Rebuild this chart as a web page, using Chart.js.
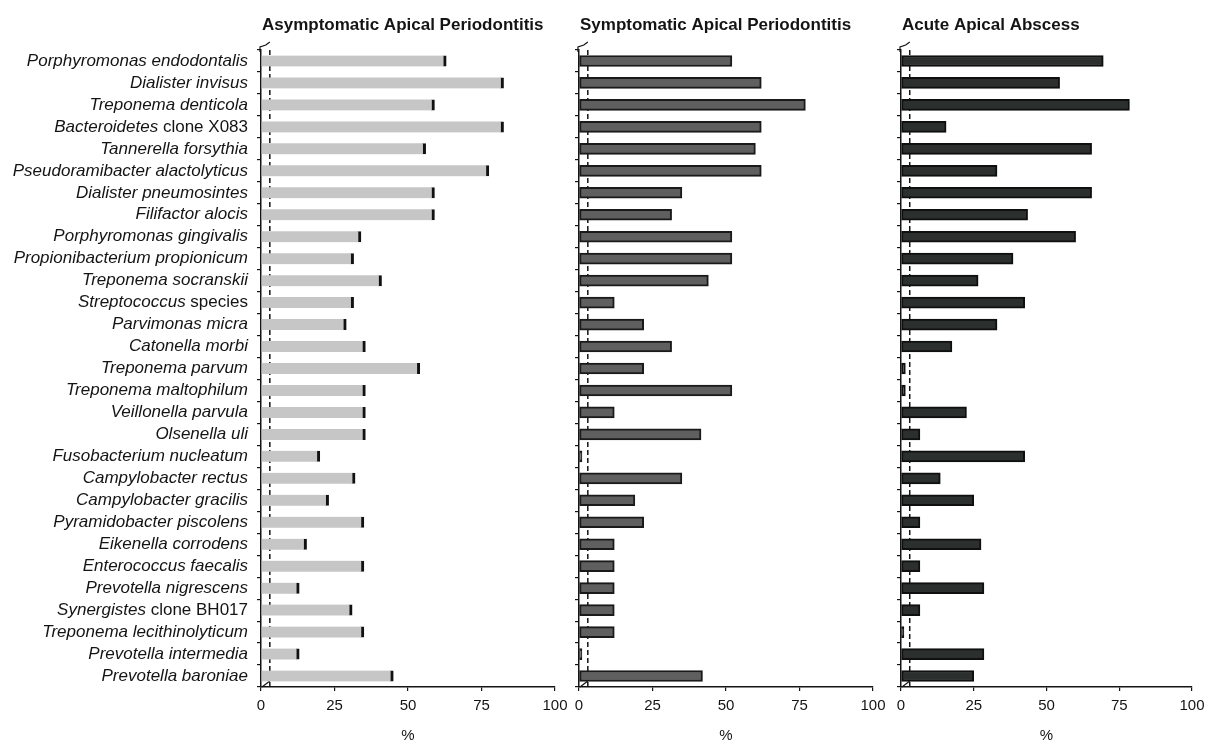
<!DOCTYPE html>
<html>
<head>
<meta charset="utf-8">
<script src="https://cdn.jsdelivr.net/npm/chart.js@4"></script>
<style>
  html, body { margin: 0; padding: 0; background: #fff; }
  body { width: 1206px; height: 742px; position: relative; overflow: hidden; }
  canvas { position: absolute; top: 0; }
</style>
</head>
<body>
<canvas id="c1" width="575" height="742" style="left:0px"></canvas>
<canvas id="c2" width="330" height="742" style="left:565px"></canvas>
<canvas id="c3" width="316" height="742" style="left:890px"></canvas>
<script>
// Taxa, top to bottom
const categories = [
  'Porphyromonas endodontalis', 'Dialister invisus', 'Treponema denticola',
  'Bacteroidetes clone X083', 'Tannerella forsythia', 'Pseudoramibacter alactolyticus',
  'Dialister pneumosintes', 'Filifactor alocis', 'Porphyromonas gingivalis',
  'Propionibacterium propionicum', 'Treponema socranskii', 'Streptococcus species',
  'Parvimonas micra', 'Catonella morbi', 'Treponema parvum', 'Treponema maltophilum',
  'Veillonella parvula', 'Olsenella uli', 'Fusobacterium nucleatum', 'Campylobacter rectus',
  'Campylobacter gracilis', 'Pyramidobacter piscolens', 'Eikenella corrodens',
  'Enterococcus faecalis', 'Prevotella nigrescens', 'Synergistes clone BH017',
  'Treponema lecithinolyticum', 'Prevotella intermedia', 'Prevotella baroniae'
];

// Prevalence (%) per clinical condition
const asymptomatic = [63, 82.5, 59, 82.5, 56, 77.5, 59, 59, 34, 31.5, 41, 31.5, 29, 35.5, 54,
  35.5, 35.5, 35.5, 20, 32, 23, 35, 15.5, 35, 13, 31, 35, 13, 45];
const symptomatic = [52, 62, 77, 62, 60, 62, 35, 31.5, 52, 52, 44, 12, 22, 31.5, 22,
  52, 12, 41.5, 1, 35, 19, 22, 12, 12, 12, 12, 12, 1, 42];
const acuteAbscess = [69.5, 54.5, 78.5, 15.5, 65.5, 33, 65.5, 43.5, 60, 38.5, 26.5, 42.5, 33, 17.5, 1.5,
  1.5, 22.5, 6.5, 42.5, 13.5, 25, 6.5, 27.5, 6.5, 28.5, 6.5, 1, 28.5, 25];

const panelTitles = ['Asymptomatic Apical Periodontitis', 'Symptomatic Apical Periodontitis', 'Acute Apical Abscess'];
const xTicks = [0, 25, 50, 75, 100];
const referenceLine = 3;          // dashed vertical reference (%)
const uprightWords = ['clone', 'X083', 'species', 'BH017'];

const INK = '#141414';
const FONT = '"Liberation Sans", Arial, Helvetica, sans-serif';

// Titles, dashed reference line, axis hooks and mixed-style taxon names
const panelDecor = {
  id: 'panelDecor',
  beforeDatasetsDraw(chart, args, opts) {
    const { ctx, chartArea } = chart;
    const xs = chart.scales.x;
    const rx = xs.getPixelForValue(referenceLine);
    ctx.save();
    ctx.strokeStyle = INK;
    ctx.lineWidth = 1.5;
    ctx.setLineDash([5, 3]);
    ctx.beginPath();
    ctx.moveTo(rx, chartArea.top);
    ctx.lineTo(rx, chartArea.bottom);
    ctx.stroke();
    ctx.setLineDash([]);
    // small hook at the top of the axis
    ctx.lineWidth = 1.2;
    ctx.beginPath();
    ctx.moveTo(chartArea.left - 1, chartArea.top + 2);
    ctx.lineTo(chartArea.left - 1, chartArea.top - 3);
    ctx.lineTo(rx - 4, chartArea.top - 5);
    ctx.lineTo(rx, chartArea.top - 8);
    ctx.stroke();
    // small curl at the bottom
    ctx.beginPath();
    ctx.moveTo(rx, chartArea.bottom - 6);
    ctx.lineTo(chartArea.left + 1, chartArea.bottom);
    ctx.stroke();
    ctx.restore();
  },
  afterDraw(chart, args, opts) {
    const { ctx, chartArea } = chart;
    ctx.save();
    ctx.fillStyle = INK;
    ctx.textBaseline = 'middle';
    ctx.textAlign = 'left';
    ctx.font = 'bold 17px ' + FONT;
    ctx.fillText(opts.title, chartArea.left + 1, 25);

    if (opts.names) {
      const ys = chart.scales.y;
      const italic = 'italic 17px ' + FONT;
      const upright = '17px ' + FONT;
      const right = chartArea.left - 13;
      categories.forEach((name, i) => {
        const y = ys.getPixelForValue(i);
        const words = name.split(' ');
        const parts = words.map((w, k) => ({
          text: (k ? ' ' : '') + w,
          font: uprightWords.includes(w) ? upright : italic
        }));
        let total = 0;
        parts.forEach(p => { ctx.font = p.font; p.w = ctx.measureText(p.text).width; total += p.w; });
        let x = right - total;
        parts.forEach(p => { ctx.font = p.font; ctx.fillText(p.text, x, y); x += p.w; });
      });
    }
    ctx.restore();
  }
};

function makePanel(id, values, title, style, yWidth, padRight, names) {
  return new Chart(document.getElementById(id), {
    type: 'bar',
    data: {
      labels: categories,
      datasets: [{
        data: values,
        backgroundColor: style.fill,
        borderColor: style.edge,
        borderWidth: style.borderWidth,
        borderSkipped: style.skip,
        barThickness: 11
      }]
    },
    options: {
      indexAxis: 'y',
      responsive: false,
      animation: false,
      devicePixelRatio: 1,
      layout: { padding: { top: 50, right: padRight, bottom: 0, left: 0 } },
      plugins: {
        legend: { display: false },
        tooltip: { enabled: false },
        title: { display: false },
        panelDecor: { title: title, names: names }
      },
      scales: {
        x: {
          type: 'linear',
          min: 0, max: 100,
          afterBuildTicks: s => { s.ticks = xTicks.map(v => ({ value: v })); },
          afterFit: s => { s.height = 55; s.paddingLeft = 0; s.paddingRight = 0; },
          border: { display: true, color: INK, width: 1.5 },
          grid: { drawOnChartArea: false, drawTicks: true, tickLength: 4, color: INK, lineWidth: 1.2 },
          ticks: { color: INK, font: { family: FONT, size: 15 }, padding: 6, maxRotation: 0 },
          title: { display: true, text: '%', color: INK, font: { family: FONT, size: 15 }, padding: { top: 0, bottom: -3 } }
        },
        y: {
          type: 'category',
          offset: true,
          afterFit: s => { s.width = yWidth; s.paddingTop = 0; s.paddingBottom = 0; },
          border: { display: true, color: INK, width: 1.5 },
          grid: { drawOnChartArea: false, drawTicks: true, tickLength: 4, offset: true, color: INK, lineWidth: 1.2 },
          ticks: { display: false }
        }
      }
    },
    plugins: [panelDecor]
  });
}

makePanel('c1', asymptomatic, panelTitles[0],
  { fill: '#c6c6c6', edge: '#111', borderWidth: { top: 0, bottom: 0, left: 0, right: 3 }, skip: 'start' },
  261, 20, true);
makePanel('c2', symptomatic, panelTitles[1],
  { fill: '#5f5f5f', edge: '#1a1a1a', borderWidth: 2, skip: false },
  14, 22, false);
makePanel('c3', acuteAbscess, panelTitles[2],
  { fill: '#2b302f', edge: '#0f0f0f', borderWidth: 2, skip: false },
  11, 14, false);
</script>
</body>
</html>
